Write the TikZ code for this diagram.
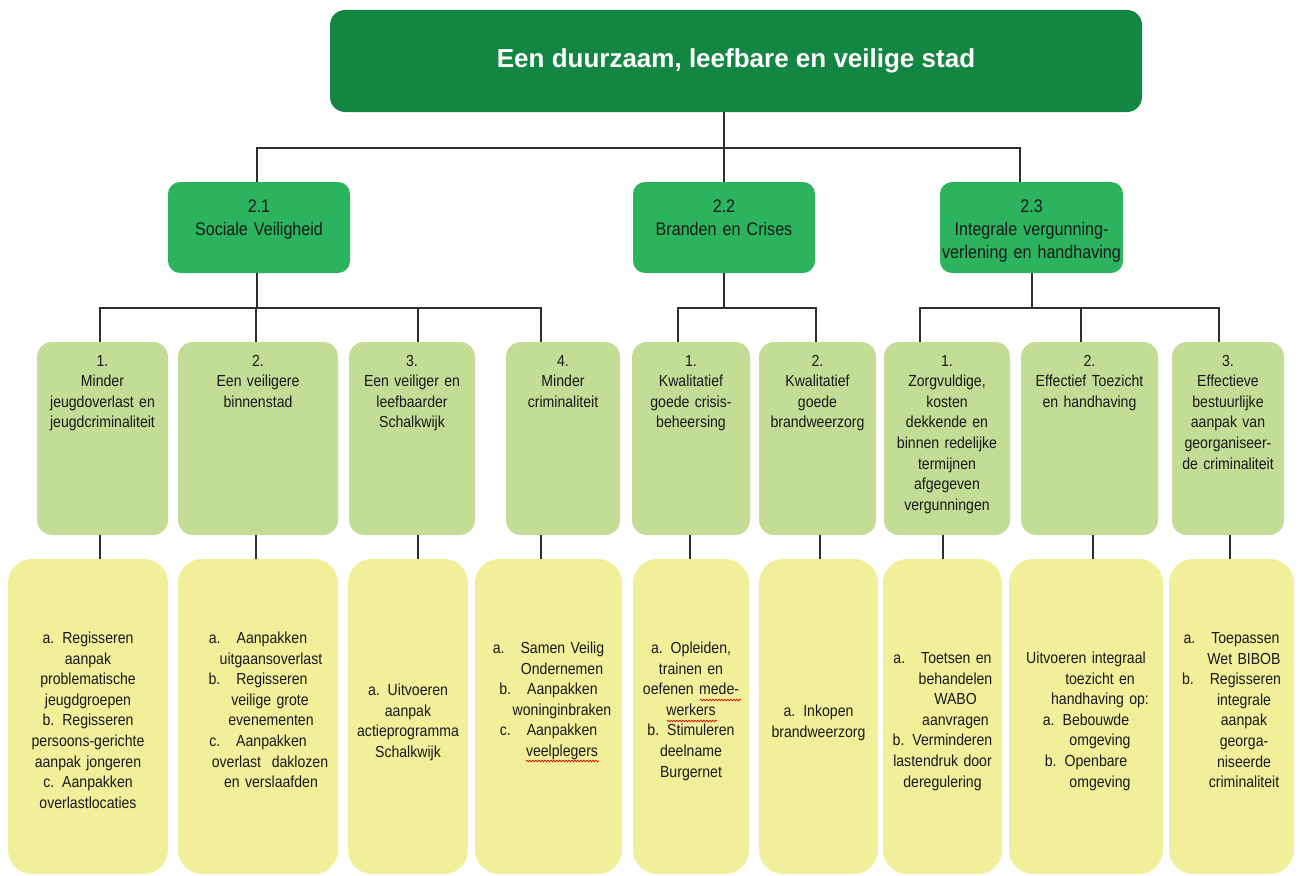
\documentclass[tikz,border=0pt]{standalone}
\usepackage{fontspec}
\setmainfont{Liberation Sans}[FakeStretch=0.88]
\newfontfamily\titlefont{Liberation Sans}
\usetikzlibrary{decorations.pathmorphing}
\definecolor{cTop}{RGB}{19,135,65}
\definecolor{cLtwo}{RGB}{44,179,94}
\definecolor{cLthree}{RGB}{195,220,150}
\definecolor{cLfour}{RGB}{242,239,155}
\definecolor{cLine}{RGB}{45,45,45}
\definecolor{cText}{RGB}{25,25,25}
\begin{document}
\begin{tikzpicture}[x=1pt,y=-1pt,
  conn/.style={draw=cLine, line width=1.1pt},
  spell/.style={draw=red!85!black, line width=0.7pt, decorate,
    decoration={snake, amplitude=0.8pt, segment length=3pt}},
  basebox/.style={anchor=north west, inner sep=0pt, outer sep=0pt, align=center, text=cText},
  topbox/.style={basebox, fill=cTop, rounded corners=15pt, text=white,
    font=\titlefont\bfseries\fontsize{26}{30}\selectfont},
  lvtwo/.style={basebox, fill=cLtwo, rounded corners=12pt,
    font=\fontsize{18.3}{23}\selectfont, text height=30pt, text depth=61pt},
  lvthree/.style={basebox, fill=cLthree, rounded corners=15pt,
    font=\fontsize{16}{20.6}\selectfont, text height=24pt, text depth=169pt},
  lvfour/.style={basebox, fill=cLfour, rounded corners=24pt,
    font=\fontsize{16}{20.6}\selectfont, text height=#1, text depth=315pt-#1},
]
\useasboundingbox (0,0) rectangle (1300,875);

% top
\node[topbox, minimum width=812pt, minimum height=102pt] (top) at (330,10)
  {Een duurzaam, leefbare en veilige stad};

% level 2
\node[lvtwo, text width=182pt] (s21) at (168,182) {2.1\\Sociale Veiligheid};
\node[lvtwo, text width=182pt] (s22) at (633,182) {2.2\\Branden en Crises};
\node[lvtwo, text width=183pt] (s23) at (940,182) {2.3\\Integrale vergunning-\\verlening en handhaving};

% level 3
\node[lvthree, text width=131pt] (c1) at (37,342) {1.\\Minder\\jeugdoverlast en\\jeugdcriminaliteit};
\node[lvthree, text width=160pt] (c2) at (178,342) {2.\\Een veiligere\\binnenstad};
\node[lvthree, text width=126pt] (c3) at (349,342) {3.\\Een veiliger en\\leefbaarder\\Schalkwijk};
\node[lvthree, text width=114pt] (c4) at (506,342) {4.\\Minder\\criminaliteit};
\node[lvthree, text width=118pt] (c5) at (632,342) {1.\\Kwalitatief\\goede crisis-\\beheersing};
\node[lvthree, text width=117pt] (c6) at (759,342) {2.\\Kwalitatief\\goede\\brandweerzorg};
\node[lvthree, text width=126pt] (c7) at (884,342) {1.\\Zorgvuldige,\\kosten\\dekkende en\\binnen redelijke\\termijnen\\afgegeven\\vergunningen};
\node[lvthree, text width=137pt] (c8) at (1021,342) {2.\\Effectief Toezicht\\en handhaving};
\node[lvthree, text width=112pt] (c9) at (1172,342) {3.\\Effectieve\\bestuurlijke\\aanpak van\\georganiseer-\\de criminaliteit};

% level 4
\node[lvfour=84.5pt, text width=160pt] (d1) at (8,559)
  {a. Regisseren\\aanpak\\problematische\\jeugdgroepen\\b. Regisseren\\persoons-gerichte\\aanpak jongeren\\c. Aanpakken\\overlastlocaties};
\node[lvfour=84.5pt, text width=160pt] (d2) at (178,559)
  {a.\hspace{16pt}Aanpakken\\\hspace*{26pt}uitgaansoverlast\\b.\hspace{16pt}Regisseren\\\hspace*{24pt}veilige grote\\\hspace*{26pt}evenementen\\c.\hspace{16pt}Aanpakken\\\hspace*{24pt}overlast\ \ daklozen\\\hspace*{26pt}en verslaafden};
\node[lvfour=136.5pt, text width=120pt] (d3) at (348,559)
  {a. Uitvoeren\\aanpak\\actieprogramma\\Schalkwijk};
\node[lvfour=94.5pt, text width=147pt] (d4) at (475,559)
  {a.\hspace{16pt}Samen Veilig\\\hspace*{27pt}Ondernemen\\b.\hspace{16pt}Aanpakken\\\hspace*{27pt}woninginbraken\\c.\hspace{16pt}Aanpakken\\\hspace*{27pt}veelplegers};
\node[lvfour=94.5pt, text width=116pt] (d5) at (633,559)
  {a. Opleiden,\\trainen en\\oefenen mede-\\werkers\\b. Stimuleren\\deelname\\Burgernet};
\node[lvfour=157.5pt, text width=119pt] (d6) at (759,559)
  {a. Inkopen\\brandweerzorg};
\node[lvfour=104.5pt, text width=119pt] (d7) at (883,559)
  {a.\hspace{16pt}Toetsen en\\\hspace*{26pt}behandelen\\\hspace*{26pt}WABO\\\hspace*{26pt}aanvragen\\b. Verminderen\\lastendruk door\\deregulering};
\node[lvfour=104.5pt, text width=154pt] (d8) at (1009,559)
  {Uitvoeren integraal\\\hspace*{28pt}toezicht en\\\hspace*{28pt}handhaving op:\\a. Bebouwde\\\hspace*{28pt}omgeving\\b. Openbare\\\hspace*{28pt}omgeving};
\node[lvfour=84.5pt, text width=125pt] (d9) at (1169,559)
  {a.\hspace{16pt}Toepassen\\\hspace*{25pt}Wet BIBOB\\b.\hspace{16pt}Regisseren\\\hspace*{25pt}integrale\\\hspace*{25pt}aanpak\\\hspace*{25pt}georga-\\\hspace*{25pt}niseerde\\\hspace*{25pt}criminaliteit};

% spell-check underlines
\draw[spell] (526,761) -- (599,761);
\draw[spell] (700,700) -- (741,700);
\draw[spell] (667,721) -- (717,721);

% bus lines
\coordinate (busA) at (0,148);
\coordinate (busB) at (0,308);

% level 1 -> level 2
\coordinate (a1) at ([xshift=-2pt]s21.north);
\coordinate (a3) at ([xshift=-11.5pt]s23.north);
\draw[conn] (s22.north) -- (s22.north |- top.south);
\draw[conn] (a1) -- (a1 |- busA) -- (a3 |- busA) -- (a3);

% group 2.1
\coordinate (b1) at ([xshift=-2pt]s21.south);
\coordinate (t1) at ([xshift=-2.5pt]c1.north);
\coordinate (t2) at ([xshift=-2pt]c2.north);
\coordinate (t3) at ([xshift=6pt]c3.north);
\coordinate (t4) at ([xshift=-22pt]c4.north);
\draw[conn] (b1) -- (b1 |- busB);
\draw[conn] (t1) -- (t1 |- busB) -- (t4 |- busB) -- (t4);
\draw[conn] (t2) -- (t2 |- busB);
\draw[conn] (t3) -- (t3 |- busB);

% group 2.2
\coordinate (t5) at ([xshift=-13pt]c5.north);
\coordinate (t6) at ([xshift=-1.5pt]c6.north);
\draw[conn] (s22.south) -- (s22.south |- busB);
\draw[conn] (t5) -- (t5 |- busB) -- (t6 |- busB) -- (t6);

% group 2.3
\coordinate (b3) at ([xshift=0.5pt]s23.south);
\coordinate (t7) at ([xshift=-27pt]c7.north);
\coordinate (t8) at ([xshift=-8.5pt]c8.north);
\coordinate (t9) at ([xshift=-9pt]c9.north);
\draw[conn] (b3) -- (b3 |- busB);
\draw[conn] (t7) -- (t7 |- busB) -- (t9 |- busB) -- (t9);
\draw[conn] (t8) -- (t8 |- busB);

% level 3 -> level 4
\coordinate (u1) at ([xshift=-2.5pt]c1.south);
\coordinate (u2) at ([xshift=-2pt]c2.south);
\coordinate (u3) at ([xshift=6pt]c3.south);
\coordinate (u4) at ([xshift=-22pt]c4.south);
\coordinate (u5) at ([xshift=-1pt]c5.south);
\coordinate (u6) at ([xshift=2.5pt]c6.south);
\coordinate (u7) at ([xshift=-4pt]c7.south);
\coordinate (u8) at ([xshift=3.5pt]c8.south);
\coordinate (u9) at ([xshift=2pt]c9.south);
\draw[conn] (u1) -- (u1 |- d1.north);
\draw[conn] (u2) -- (u2 |- d2.north);
\draw[conn] (u3) -- (u3 |- d3.north);
\draw[conn] (u4) -- (u4 |- d4.north);
\draw[conn] (u5) -- (u5 |- d5.north);
\draw[conn] (u6) -- (u6 |- d6.north);
\draw[conn] (u7) -- (u7 |- d7.north);
\draw[conn] (u8) -- (u8 |- d8.north);
\draw[conn] (u9) -- (u9 |- d9.north);
\end{tikzpicture}
\end{document}
